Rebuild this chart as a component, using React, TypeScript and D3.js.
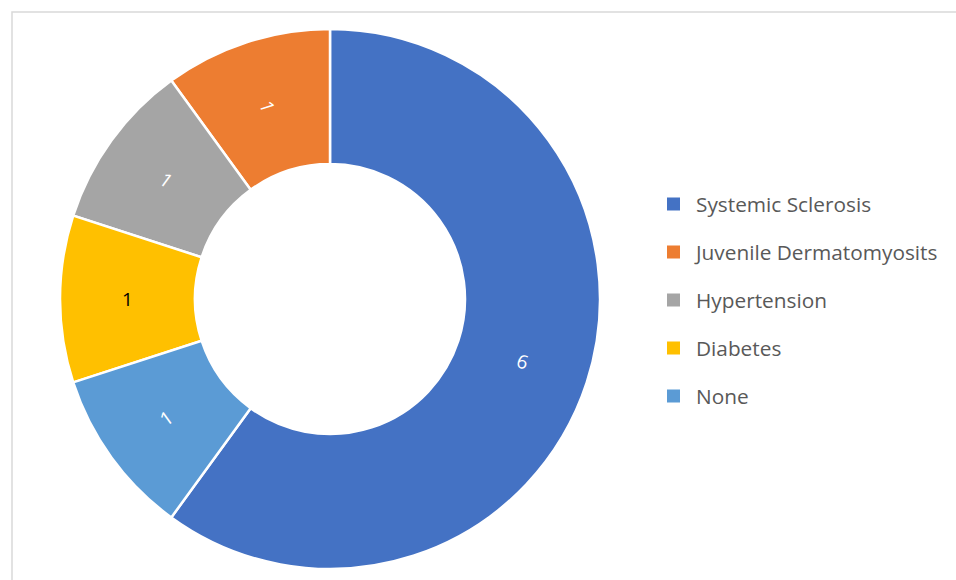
import React from "react";
import * as d3 from "d3";

const categories = ["Systemic Sclerosis", "Juvenile Dermatomyosits", "Hypertension", "Diabetes", "None"];
const values = [6, 1, 1, 1, 1];
const colors = ["#4472C4", "#ED7D31", "#A5A5A5", "#FFC000", "#5B9BD5"];
const labelColors = ["#ffffff", "#ffffff", "#ffffff", "#000000", "#ffffff"];

const W = 956;
const H = 580;
const cx = 330;
const cy = 299;
const outerR = 270;
const innerR = 135;
const font = "'Open Sans', 'Noto Sans', sans-serif";

const App = () => {
  // slices run counter-clockwise, the big one ending at 12 o'clock
  const start = (216 * Math.PI) / 180;
  const pie = d3
    .pie<number>()
    .value((d) => d)
    .sort(null)
    .startAngle(start)
    .endAngle(start - 2 * Math.PI);
  const arc = d3.arc<d3.PieArcDatum<number>>().innerRadius(innerR).outerRadius(outerR);
  const slices = pie(values);

  // labels are turned radially, flipped so they never read upside down
  const labelRotation = (d: d3.PieArcDatum<number>) => {
    let r = ((d.startAngle + d.endAngle) / 2) * (180 / Math.PI) - 270;
    while (r > 90) r -= 180;
    while (r <= -90) r += 180;
    return r;
  };

  const legendY = d3.scalePoint<string>().domain(categories).range([204, 396]);

  return (
    <svg width={W} height={H} style={{ position: "absolute", left: 0, top: 0, background: "#fff" }}>
      <rect x={12} y={12} width={W + 20} height={H + 20} fill="#fff" stroke="#D9D9D9" strokeWidth={1.5} />
      <g transform={`translate(${cx},${cy})`}>
        {slices.map((d, i) => (
          <path key={i} d={arc(d) || ""} fill={colors[i]} stroke="#fff" strokeWidth={2.5} />
        ))}
        {slices.map((d, i) => {
          const [x, y] = arc.centroid(d);
          return (
            <text
              key={i}
              transform={`translate(${x},${y}) rotate(${labelRotation(d)})`}
              textAnchor="middle"
              dominantBaseline="central"
              fill={labelColors[i]}
              style={{ fontFamily: font, fontSize: 19 }}
            >
              {d.value}
            </text>
          );
        })}
      </g>
      <g>
        {categories.map((c, i) => (
          <g key={c} transform={`translate(667,${legendY(c)})`}>
            <rect x={0} y={-6.5} width={13} height={13} fill={colors[i]} />
            <text x={29} y={0} dominantBaseline="central" fill="#595959" style={{ fontFamily: font, fontSize: 20.8 }}>
              {c}
            </text>
          </g>
        ))}
      </g>
    </svg>
  );
};

export default App;
